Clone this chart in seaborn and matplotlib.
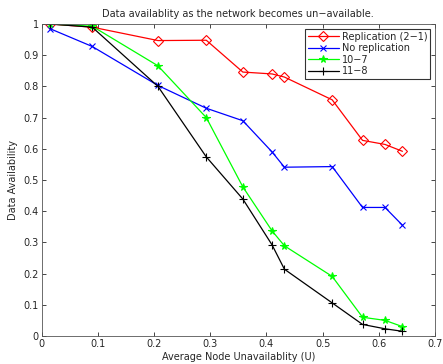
import matplotlib
matplotlib.use("Agg")
import matplotlib.pyplot as plt
import seaborn as sns
import pandas as pd

u = [0.015, 0.09, 0.207, 0.293, 0.358, 0.41, 0.432, 0.517, 0.571, 0.611, 0.642]
repl = [1.0, 0.99, 0.947, 0.948, 0.846, 0.84, 0.83, 0.757, 0.627, 0.614, 0.592]
norepl = [0.985, 0.928, 0.803, 0.73, 0.69, 0.59, 0.541, 0.543, 0.412, 0.412, 0.355]
c10_7 = [1.0, 0.993, 0.866, 0.70, 0.478, 0.337, 0.289, 0.191, 0.06, 0.05, 0.03]
c11_8 = [1.0, 0.99, 0.80, 0.574, 0.439, 0.292, 0.214, 0.106, 0.037, 0.023, 0.015]

names = ["Replication (2\u22121)", "No replication", "10\u22127", "11\u22128"]
series = [repl, norepl, c10_7, c11_8]

rows = []
for name, vals in zip(names, series):
    for x, y in zip(u, vals):
        rows.append({"U": x, "A": y, "s": name})
df = pd.DataFrame(rows)

sns.set_style("white")
plt.rcParams["font.family"] = ["DejaVu Sans"]
plt.rcParams["font.size"] = 7

fig = plt.figure(figsize=(4.43, 3.64), dpi=100)
ax = fig.add_axes([0.094, 0.077, 0.888, 0.857])

colors = {names[0]: "#ff0000", names[1]: "#0000ff", names[2]: "#00ff00", names[3]: "#000000"}
markers = {names[0]: "D", names[1]: "x", names[2]: "*", names[3]: "+"}
sizes = {names[0]: 5, names[1]: 4, names[2]: 5.5, names[3]: 6}

for name in names:
    sub = df[df["s"] == name]
    mfc = "none" if name == names[0] else colors[name]
    sns.lineplot(data=sub, x="U", y="A", ax=ax, color=colors[name], label=name,
                 marker=markers[name], markersize=sizes[name], markerfacecolor=mfc,
                 markeredgecolor=colors[name], markeredgewidth=0.8, linewidth=0.9)

ax.set_xlim(0, 0.7)
ax.set_ylim(0, 1)
ax.set_xticks([0, 0.1, 0.2, 0.3, 0.4, 0.5, 0.6, 0.7])
ax.set_xticklabels(["0", "0.1", "0.2", "0.3", "0.4", "0.5", "0.6", "0.7"])
ax.set_yticks([0, 0.1, 0.2, 0.3, 0.4, 0.5, 0.6, 0.7, 0.8, 0.9, 1])
ax.set_yticklabels(["0", "0.1", "0.2", "0.3", "0.4", "0.5", "0.6", "0.7", "0.8", "0.9", "1"])
ax.tick_params(direction="in", length=3, width=0.6, labelsize=7, pad=2,
               top=True, right=True, bottom=True, left=True)
for sp in ax.spines.values():
    sp.set_color("#555555")
    sp.set_linewidth(0.6)

ax.set_title("Data availablity as the network becomes un\u2212available.", fontsize=7, pad=5)
ax.set_xlabel("Average Node Unavailablity (U)", fontsize=7, labelpad=2)
ax.set_ylabel("Data Availability", fontsize=7, labelpad=4)

leg = ax.legend(loc="upper right", fontsize=7, frameon=True, fancybox=False,
                borderaxespad=0.5, handlelength=3.2, labelspacing=0.15,
                borderpad=0.3, handletextpad=0.3)
leg.get_frame().set_edgecolor("black")
leg.get_frame().set_linewidth(0.8)

fig.savefig("out.png", dpi=100)
